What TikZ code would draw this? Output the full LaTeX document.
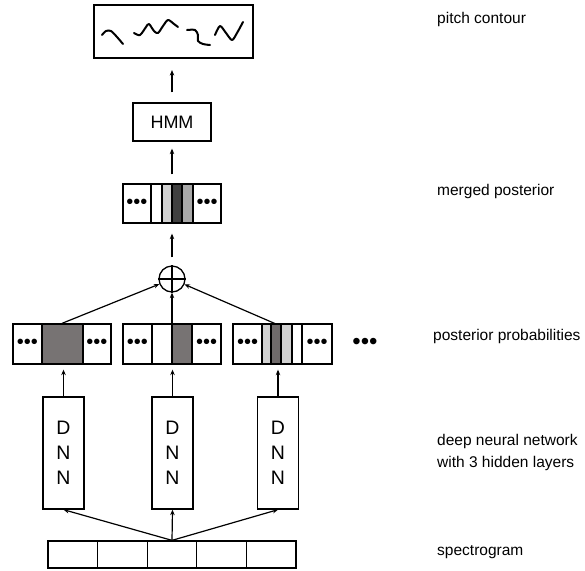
\documentclass[tikz,border=0pt]{standalone}
\usepackage{fontspec}
\setmainfont{Liberation Sans}
\usetikzlibrary{arrows.meta}
\definecolor{gA}{HTML}{777373}
\definecolor{gLight}{HTML}{D2D2D2}
\definecolor{gDark}{HTML}{404040}
\definecolor{gMid}{HTML}{A8A8A8}
\definecolor{gDark3}{HTML}{6F6A6A}
\tikzset{
  box/.style={draw, line width=1.3pt, inner sep=0pt},
  thin/.style={line width=1.3pt},
  conn/.style={line width=1.2pt, -{Stealth[length=5.5pt,width=4.5pt]}},
  lbl/.style={anchor=base west, inner sep=0pt, font=\fontsize{15.5}{22}\selectfont},
  dots/.style={inner sep=0pt, font=\fontsize{20}{20}\selectfont},
  squig/.style={line width=2pt, line cap=round, line join=round}
}
\begin{document}
\begin{tikzpicture}[x=1pt,y=-1pt]
\useasboundingbox (0,0) rectangle (585,570);

% pitch contour box
\node[box, line width=2.2pt, minimum width=159pt, minimum height=53pt] (pitch) at (173.5,31.5) {};
\draw[squig] plot[smooth] coordinates {(102,35) (106,31) (111,31) (117,37) (123,44)};
\draw[squig] plot[smooth] coordinates {(134,33) (140,35) (146,27) (149,24) (154,31) (158,33) (163,26) (168,20) (174,24) (178,27)};
\draw[squig] plot[smooth] coordinates {(187,30) (195,30) (198,35) (198,41) (203,44) (210,45)};
\draw[squig] plot[smooth] coordinates {(215,35) (220,26) (226,33) (232,40) (237,33) (243,22)};

% HMM
\node[box, minimum width=78pt, minimum height=38pt, font=\fontsize{18}{18}\selectfont] (hmm) at (172,122) {HMM};

% merged posterior
\fill[gLight] (162,184) rectangle (172,223);
\fill[gDark] (172,184) rectangle (182,223);
\fill[gMid] (182,184) rectangle (193,223);
\draw[thin] (151,184) -- (151,223) (162,184) -- (162,223) (172,184) -- (172,223) (182,184) -- (182,223) (193,184) -- (193,223);
\node[box, minimum width=98pt, minimum height=39pt] (merged) at (172,203.5) {};
\node[dots] (md1) at (137,204) {•••};
\node[dots] (md2) at (207,204) {•••};

% sum circle
\node[draw, thin, circle, minimum size=26pt, inner sep=0pt] (sum) at (172,279) {};
\draw[thin] (sum.north) -- (sum.south) (sum.west) -- (sum.east);

% posterior boxes
\fill[gA] (42,324) rectangle (83,364);
\draw[thin] (42,324) -- (42,364) (83,324) -- (83,364);
\node[box, minimum width=98pt, minimum height=40pt] (post1) at (62,344) {};
\node[dots] (p1a) at (27.5,344) {•••};
\node[dots] (p1b) at (97,344) {•••};

\fill[gA] (172,324) rectangle (192,364);
\draw[thin] (152,324) -- (152,364) (172,324) -- (172,364) (192,324) -- (192,364);
\node[box, minimum width=98pt, minimum height=40pt] (post2) at (172,344) {};
\node[dots] (p2a) at (137.5,344) {•••};
\node[dots] (p2b) at (206.5,344) {•••};

\fill[gLight] (262,324) rectangle (271,364);
\fill[gDark3] (271,324) rectangle (281,364);
\fill[gLight] (281,324) rectangle (292,364);
\draw[thin] (262,324) -- (262,364) (271,324) -- (271,364) (281,324) -- (281,364) (292,324) -- (292,364) (302,324) -- (302,364);
\node[box, minimum width=99pt, minimum height=40pt] (post3) at (282.5,344) {};
\node[dots] (p3a) at (247.5,344) {•••};
\node[dots] (p3b) at (317,344) {•••};
\coordinate (p3top) at (276,324);

\node[dots, font=\fontsize{24}{24}\selectfont] (more) at (365,344) {•••};

% DNNs
\node[box, minimum width=41pt, minimum height=112pt, align=center, font=\fontsize{19.5}{25}\selectfont] (dnn1) at (63.5,453) {D\\N\\N};
\node[box, minimum width=41pt, minimum height=112pt, align=center, font=\fontsize{19.5}{25}\selectfont] (dnn2) at (172.5,453) {D\\N\\N};
\node[box, minimum width=41pt, minimum height=112pt, align=center, font=\fontsize{19.5}{25}\selectfont] (dnn3) at (278,453) {D\\N\\N};

% spectrogram
\node[box, minimum width=248pt, minimum height=27pt] (spec) at (172,554.5) {};
\foreach \xx in {97.6,147.2,196.8,246.4} \draw[thin] (\xx,541) -- (\xx,568);

% connectors
\draw[conn] (spec.north) -- (dnn1.south);
\draw[conn] (spec.north) -- (dnn2.south);
\draw[conn] (spec.north) -- (dnn3.south);
\draw[conn, shorten >=5pt] (dnn1.north) -- (dnn1.north |- post1.south);
\draw[conn, shorten >=5pt] (dnn2.north) -- (dnn2.north |- post2.south);
\draw[conn, shorten >=5pt] (dnn3.north) -- (dnn3.north |- post3.south);
\draw[conn] (post1.north) -- (sum);
\draw[conn] (post2.north) -- (sum);
\draw[conn] (p3top) -- (sum);
\draw[conn, shorten <=8pt, shorten >=10pt] (sum.north) -- (merged.south);
\draw[conn, shorten <=9pt, shorten >=7pt] (merged.north) -- (hmm.south);
\draw[conn, shorten <=10pt, shorten >=11pt] (hmm.north) -- (hmm.north |- pitch.south);

% labels
\node[lbl] (l1) at (437,23) {pitch contour};
\node[lbl] (l2) at (437,195) {merged posterior};
\node[lbl] (l3) at (433,340) {posterior probabilities};
\node[lbl] (l4) at (437,445) {deep neural network};
\node[lbl] (l5) at (437,467) {with 3 hidden layers};
\node[lbl] (l6) at (437,555) {spectrogram};
\end{tikzpicture}
\end{document}
